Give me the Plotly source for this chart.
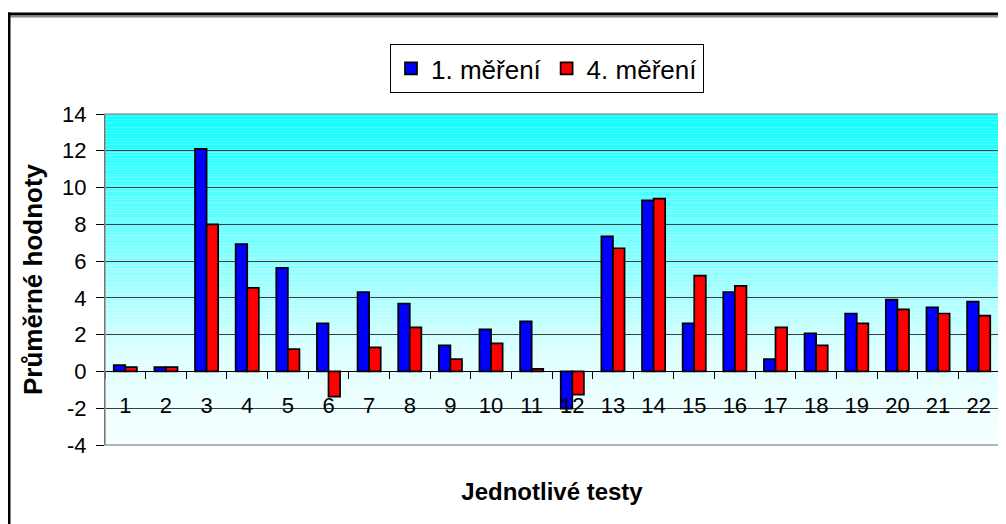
import numpy as np
import plotly.graph_objects as go

# ---- data ----
tests = [str(i) for i in range(1, 23)]
mereni_1 = [0.34, 0.23, 12.1, 6.92, 5.64, 2.61, 4.32, 3.69, 1.42, 2.29, 2.72,
            -2.02, 7.35, 9.3, 2.61, 4.32, 0.67, 2.07, 3.15, 3.91, 3.48, 3.8]
mereni_4 = [0.23, 0.23, 8.0, 4.54, 1.21, -1.37, 1.31, 2.4, 0.67, 1.53, 0.14,
            -1.26, 6.7, 9.4, 5.21, 4.65, 2.4, 1.42, 2.61, 3.37, 3.15, 3.04]
y_ticks = [-4, -2, 0, 2, 4, 6, 8, 10, 12, 14]
y_tick_labels = ["-4", "-2", "0", "2", "4", "6", "8", "10", "12", "14"]
series_names = ["1. měření", "4. měření"]
x_title = "Jednotlivé testy"
y_title = "Průměrné hodnoty"

# ---- layout geometry (px, in page coordinates; page has an 8px body margin) ----
OFF = 8
W, H = 1006 - OFF, 524 - OFF
ML, MT = 105 - OFF, 114 - OFF
MR = W - (999 - OFF)
MB = H - (445 - OFF)
PW, PH = W - ML - MR, H - MT - MB
YMIN, YMAX = -4, 14


def X(sx):
    return (sx - OFF - ML) / PW


def Y(sy):
    return (H - MB - (sy - OFF)) / PH


FONT = "Liberation Sans, Arial, sans-serif"

fig = go.Figure()
fig.add_bar(x=tests, y=mereni_1, name=series_names[0],
            marker=dict(color="#0000FF", line=dict(color="black", width=1.7)))
fig.add_bar(x=tests, y=mereni_4, name=series_names[1],
            marker=dict(color="#FF0000", line=dict(color="black", width=1.7)))

shapes = []
# vertical gradient background (cyan at top -> almost white at bottom)
stop_y = [-4, 1, 7, 14]
stop_r = [248, 222, 120, 12]
n = 120
edges = np.linspace(YMIN, YMAX, n + 1)
for i in range(n):
    mid = 0.5 * (edges[i] + edges[i + 1])
    r = int(round(np.interp(mid, stop_y, stop_r)))
    shapes.append(dict(type="rect", xref="paper", yref="y", x0=0, x1=1,
                       y0=edges[i], y1=edges[i + 1], layer="below",
                       fillcolor=f"rgb({r},255,255)", line=dict(width=0)))
# plot area border (grey)
shapes.append(dict(type="rect", xref="paper", yref="paper", x0=0, x1=1, y0=0, y1=1,
                   layer="above", line=dict(color="#9a9a9a", width=1.5)))
# outer frame: double top line and left line
shapes.append(dict(type="line", xref="paper", yref="paper", x0=X(8), x1=X(1012),
                   y0=Y(14), y1=Y(14), line=dict(color="black", width=3)))
shapes.append(dict(type="line", xref="paper", yref="paper", x0=X(8), x1=X(1012),
                   y0=Y(16.8), y1=Y(16.8), line=dict(color="#8a8a8a", width=1.5)))
shapes.append(dict(type="line", xref="paper", yref="paper", x0=X(9), x1=X(9),
                   y0=Y(12.5), y1=Y(530), line=dict(color="black", width=3)))

fig.update_layout(
    width=W, height=H,
    margin=dict(l=ML, r=MR, t=MT, b=MB, pad=0),
    paper_bgcolor="white", plot_bgcolor="white",
    font=dict(family=FONT, color="black"),
    barmode="group", bargap=0.43, bargroupgap=0,
    shapes=shapes,
    showlegend=True,
    legend=dict(orientation="h", x=X(547), xanchor="center", y=Y(44), yanchor="top",
                bordercolor="black", borderwidth=1, bgcolor="white",
                font=dict(size=26, family=FONT), traceorder="normal"),
    xaxis=dict(type="category", anchor="free", position=(0 - YMIN) / (YMAX - YMIN),
               showline=True, linecolor="black", linewidth=1,
               ticks="outside", ticklen=7, tickcolor="black", tickson="boundaries",
               showgrid=False, tickfont=dict(size=22, family=FONT),
               ticklabelstandoff=14,
               title=dict(text=x_title, font=dict(size=24, family=FONT, weight="bold"),
                          standoff=66)),
    yaxis=dict(range=[YMIN, YMAX], tickvals=y_ticks, ticktext=y_tick_labels,
               showline=True, linecolor="black",
               linewidth=1, ticks="outside", ticklen=8, tickcolor="black",
               showgrid=True, gridcolor="#3c3c3c", gridwidth=1, zeroline=False,
               tickfont=dict(size=22, family=FONT), ticklabelstandoff=5,
               title=dict(text=y_title, font=dict(size=26, family=FONT, weight="bold"),
                          standoff=12)),
)

fig.write_html("out.html")
